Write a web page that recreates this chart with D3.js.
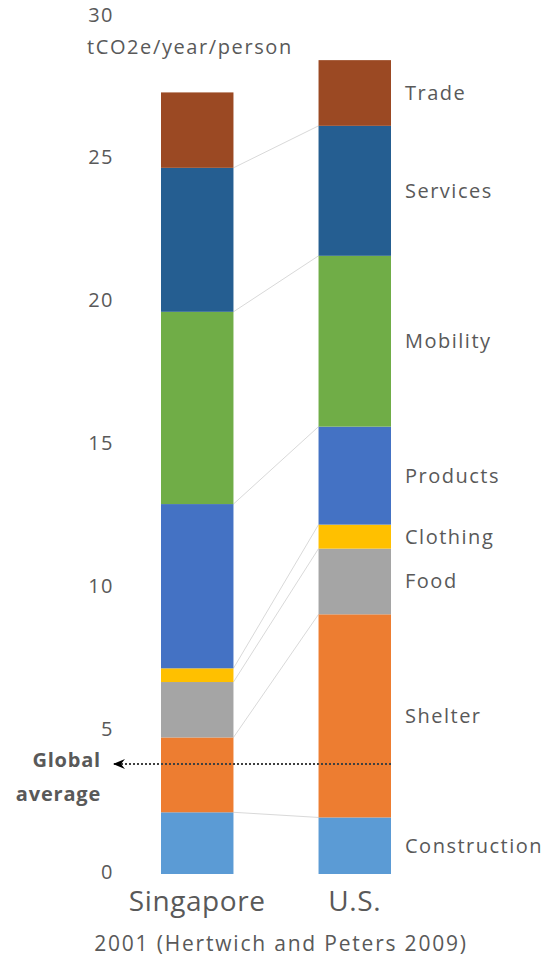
<!DOCTYPE html>
<html><head><meta charset="utf-8">
<script src="https://cdn.jsdelivr.net/npm/d3@7"></script>
<style>
html,body{margin:0;padding:0;background:#fff;}
svg{display:block;font-family:"Open Sans","Noto Sans",sans-serif;}
</style></head>
<body>
<svg id="chart" width="544" height="962"></svg>
<script>
const countries = ["Singapore", "U.S."];
const sectors = ["Construction","Shelter","Food","Clothing","Products","Mobility","Services","Trade"];
const singaporeValues = [2.16, 2.62, 1.94, 0.48, 5.75, 6.73, 5.04, 2.64];
const usValues = [1.98, 7.11, 2.30, 0.84, 3.43, 5.98, 4.55, 2.30];
const sectorColors = ["#5B9BD5","#ED7D31","#A5A5A5","#FFC000","#4472C4","#70AD47","#255E91","#9B4923"];
const yTicks = [0, 5, 10, 15, 20, 25, 30];
const globalAverage = 3.85;
const unitLabel = "tCO2e/year/person";
const caption = "2001 (Hertwich and Peters 2009)";
const globalLabel = ["Global", "average"];

const rows = countries.map((c, i) => {
  const o = {country: c};
  const vals = i === 0 ? singaporeValues : usValues;
  sectors.forEach((s, j) => o[s] = vals[j]);
  return o;
});

const svg = d3.select("#chart");
const y = d3.scaleLinear().domain([0, 30]).range([874, 17]);
const x = d3.scaleBand().domain(countries).range([161, 391]).paddingInner(0.54).paddingOuter(0);
const color = d3.scaleOrdinal().domain(sectors).range(sectorColors);

const series = d3.stack().keys(sectors)(rows);

// connector lines
const boundaries = series.slice(0, -1).map(s => ({sg: s[0][1], us: s[1][1]}));
svg.append("g").selectAll("line").data(boundaries).join("line")
  .attr("x1", x("Singapore") + x.bandwidth())
  .attr("x2", x("U.S."))
  .attr("y1", d => y(d.sg))
  .attr("y2", d => y(d.us))
  .attr("stroke", "#d9d9d9").attr("stroke-width", 1);

// bars
svg.append("g").selectAll("g").data(series).join("g")
  .attr("fill", d => color(d.key))
  .selectAll("rect").data(d => d).join("rect")
  .attr("x", d => x(d.data.country))
  .attr("width", x.bandwidth())
  .attr("y", d => y(d[1]))
  .attr("height", d => y(d[0]) - y(d[1]));

// y axis
const yAxis = svg.append("g").attr("transform", "translate(114,0)")
  .call(d3.axisLeft(y).tickValues(yTicks).tickSize(0).tickPadding(0));
yAxis.select(".domain").remove();
yAxis.selectAll("text").attr("font-size", 20).attr("fill", "#595959")
  .attr("letter-spacing", "1.5px")
  .attr("font-family", "'Open Sans','Noto Sans',sans-serif").attr("dy", "0.2em");

svg.append("text").attr("x", 87).attr("y", y(30) + 37)
  .attr("font-size", 20).attr("letter-spacing", "1.6px").attr("fill", "#595959").text(unitLabel);

// x category labels
svg.append("g").selectAll("text").data(countries).join("text")
  .attr("x", d => x(d) + x.bandwidth() / 2)
  .attr("y", 911)
  .attr("text-anchor", "middle").attr("letter-spacing", "0.6px")
  .attr("font-size", 28).attr("fill", "#595959").text(d => d);

svg.append("text").attr("x", 281).attr("y", 951).attr("text-anchor", "middle")
  .attr("letter-spacing", "1.8px")
  .attr("font-size", 21).attr("fill", "#595959").text(caption);

// sector labels on the right (centred on U.S. segments)
svg.append("g").selectAll("text").data(series).join("text")
  .attr("x", 405)
  .attr("y", d => y((d[1][0] + d[1][1]) / 2))
  .attr("dy", "0.35em").attr("letter-spacing", "1.5px")
  .attr("font-size", 20).attr("fill", "#595959").text(d => d.key);

// global average arrow
svg.append("defs").append("marker")
  .attr("id", "arr").attr("viewBox", "0 0 12 10").attr("refX", 11).attr("refY", 5)
  .attr("markerWidth", 12).attr("markerHeight", 10).attr("orient", "auto")
  .attr("markerUnits", "userSpaceOnUse")
  .append("path").attr("d", "M12,5 L0,0 L4,5 L0,10 Z").attr("fill", "#000");

svg.append("line")
  .attr("x1", x("U.S.") + x.bandwidth()).attr("x2", 114)
  .attr("y1", y(globalAverage)).attr("y2", y(globalAverage))
  .attr("stroke", "#404040").attr("stroke-width", 2)
  .attr("stroke-dasharray", "2,2")
  .attr("marker-end", "url(#arr)");

svg.append("g").selectAll("text").data(globalLabel).join("text")
  .attr("x", 101).attr("y", (d, i) => y(globalAverage) + 3 + i * 34)
  .attr("text-anchor", "end").attr("font-weight", "bold").attr("letter-spacing", "0.8px")
  .attr("font-size", 20).attr("fill", "#595959").text(d => d);
</script>
</body></html>
